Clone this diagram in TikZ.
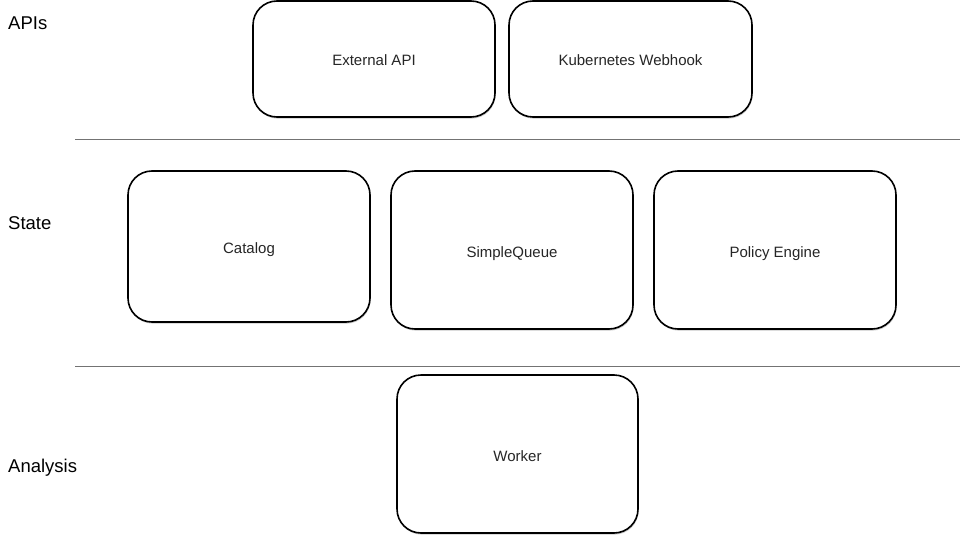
\documentclass[tikz,border=0pt]{standalone}
\usepackage{fontspec}
\setmainfont{Liberation Sans}
\usetikzlibrary{shadows}
\begin{document}
\begin{tikzpicture}[x=1pt,y=-1pt,
  box/.style={draw=black, line width=1.6pt, rounded corners=24pt, fill=white,
    drop shadow={shadow xshift=0.6pt, shadow yshift=-1.6pt, opacity=0.35, fill=black!60},
    font=\fontsize{15}{17}\selectfont, text=black!85, text height=14pt, text depth=0pt},
  layer/.style={font=\fontsize{18.5}{20}\selectfont, anchor=west, text=black, inner sep=0pt},
  sep/.style={draw=black!55, line width=0.9pt}]
\useasboundingbox (0,0) rectangle (960,540);
\node[box, minimum width=242pt, minimum height=116pt] (ext) at (374,59) {External API};
\node[box, minimum width=243pt, minimum height=116pt] (k8s) at (630.5,59) {Kubernetes Webhook};
\node[box, minimum width=242pt, minimum height=151pt] (cat) at (249,246.5) {Catalog};
\node[box, minimum width=242pt, minimum height=158pt] (sq) at (512,250) {SimpleQueue};
\node[box, minimum width=242pt, minimum height=158pt] (pe) at (775,250) {Policy Engine};
\node[box, minimum width=241pt, minimum height=158pt] (wk) at (517.5,454) {Worker};
\node[layer] (apis) at (8,23) {APIs};
\node[layer] (state) at (8,223) {State};
\node[layer] (ana) at (8,468) {Analysis};
\coordinate (l1a) at (75,139); \coordinate (l1b) at (960,139);
\coordinate (l2a) at (75,366); \coordinate (l2b) at (960,366);
\draw[sep] (l1a) -- (l1b);
\draw[sep] (l2a) -- (l2b);
\end{tikzpicture}
\end{document}
